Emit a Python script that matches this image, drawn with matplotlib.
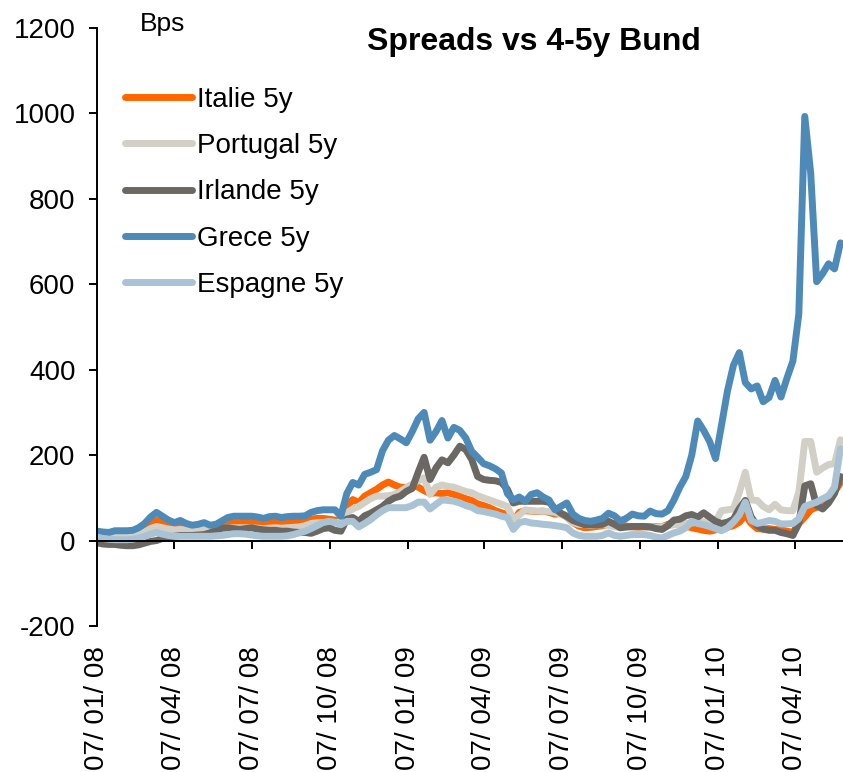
import numpy as np
import pandas as pd
import matplotlib
matplotlib.use("Agg")
import matplotlib.pyplot as plt

plt.rcParams['font.family'] = ['Liberation Sans', 'DejaVu Sans']
plt.rcParams['axes.unicode_minus'] = False

# weekly observations, first one on 07/01/2008
start = "2008-01-07"

italie = [18, 17, 15, 16, 17, 16, 17, 22, 30, 40,
          47, 45, 38, 33, 33, 30, 28, 29, 31, 30,
          31, 36, 41, 42, 42, 43, 42, 41, 40, 42,
          42, 41, 42, 43, 44, 46, 50, 52, 52, 50,
          48, 45, 80, 96, 89, 104, 112, 120, 130, 137,
          130, 125, 124, 130, 125, 117, 110, 112, 110, 112,
          108, 104, 98, 94, 86, 82, 77, 70, 65, 61,
          45, 66, 70, 69, 68, 69, 66, 62, 63, 55,
          42, 34, 30, 31, 33, 35, 38, 40, 38, 34,
          32, 31, 32, 32, 33, 32, 38, 41, 38, 34,
          30, 27, 24, 22, 25, 31, 31, 35, 43, 60,
          40, 28, 27, 28, 26, 25, 22, 19, 40, 55,
          72, 78, 85, 100, 115, 135]

portugal = [12, 11, 10, 10, 10, 11, 12, 15, 20, 28,
            33, 30, 27, 25, 26, 25, 24, 25, 26, 25,
            25, 27, 30, 30, 30, 30, 30, 29, 28, 29,
            30, 29, 30, 31, 32, 35, 40, 42, 42, 43,
            42, 44, 65, 74, 80, 89, 98, 104, 104, 105,
            108, 115, 124, 132, 140, 147, 108, 125, 130, 127,
            125, 120, 115, 112, 105, 100, 95, 90, 85, 80,
            49, 60, 72, 70, 69, 69, 68, 66, 62, 58,
            42, 38, 37, 36, 37, 37, 36, 32, 30, 31,
            32, 32, 32, 32, 32, 32, 35, 37, 38, 40,
            41, 43, 44, 45, 45, 70, 72, 74, 113, 160,
            95, 94, 80, 72, 85, 72, 70, 70, 113, 232,
            232, 160, 170, 178, 180, 236]

irlande = [-5, -8, -9, -9, -11, -12, -12, -10, -6, -2,
           0, 5, 8, 10, 12, 12, 12, 13, 14, 18,
           24, 29, 30, 28, 26, 28, 30, 27, 25, 24,
           24, 22, 22, 20, 19, 19, 17, 22, 28, 30,
           24, 22, 50, 54, 45, 58, 64, 72, 80, 92,
           100, 104, 115, 122, 160, 195, 143, 170, 189, 182,
           200, 221, 213, 190, 150, 143, 141, 140, 136, 120,
           88, 92, 92, 92, 92, 92, 90, 75, 64, 57,
           47, 42, 37, 37, 37, 38, 45, 38, 30, 32,
           33, 33, 33, 32, 28, 26, 35, 48, 50, 58,
           61, 55, 65, 55, 45, 40, 43, 50, 75, 94,
           55, 35, 27, 24, 24, 19, 16, 12, 40, 128,
           133, 82, 74, 88, 110, 150]

grece = [22, 20, 19, 23, 23, 23, 24, 30, 40, 55,
         66, 57, 48, 42, 47, 40, 36, 38, 42, 36,
         38, 46, 54, 57, 57, 57, 57, 55, 52, 56,
         57, 54, 56, 57, 57, 58, 66, 70, 72, 72,
         72, 57, 110, 136, 130, 155, 160, 166, 210, 235,
         246, 238, 229, 255, 285, 300, 235, 255, 281, 240,
         265, 258, 240, 209, 195, 180, 175, 168, 158, 110,
         95, 102, 92, 108, 112, 102, 95, 72, 80, 88,
         62, 52, 47, 45, 48, 52, 64, 58, 46, 52,
         62, 58, 57, 69, 63, 62, 70, 95, 125, 150,
         200, 280, 258, 232, 192, 270, 350, 410, 440, 370,
         355, 362, 325, 335, 375, 336, 380, 420, 530, 993,
         860, 606, 625, 648, 636, 697]

espagne = [8, 5, 3, 2, 2, 2, 3, 6, 10, 15,
           19, 15, 12, 10, 10, 10, 10, 10, 10, 10,
           11, 12, 14, 16, 16, 15, 13, 11, 10, 10,
           10, 10, 11, 14, 18, 22, 28, 35, 42, 45,
           43, 37, 45, 45, 32, 40, 49, 60, 70, 77,
           77, 77, 77, 82, 90, 90, 74, 85, 95, 94,
           92, 88, 82, 78, 70, 68, 65, 62, 57, 54,
           26, 42, 45, 41, 40, 38, 37, 35, 33, 30,
           18, 12, 10, 10, 10, 12, 18, 12, 10, 12,
           14, 14, 14, 12, 8, 6, 12, 18, 22, 30,
           45, 40, 37, 33, 28, 23, 30, 43, 60, 90,
           47, 40, 43, 47, 45, 39, 39, 40, 51, 80,
           85, 90, 98, 105, 125, 215]

names = ["Italie 5y", "Portugal 5y", "Irlande 5y", "Grece 5y", "Espagne 5y"]
colors = ["#FF6600", "#D2CFC6", "#6B6763", "#4E8AB8", "#AAC3D4"]

tick_dates = ["2008-01-07", "2008-04-07", "2008-07-07", "2008-10-07", "2009-01-07",
              "2009-04-07", "2009-07-07", "2009-10-07", "2010-01-07", "2010-04-07"]
tick_labels = ["07/ 01/ 08", "07/ 04/ 08", "07/ 07/ 08", "07/ 10/ 08", "07/ 01/ 09",
               "07/ 04/ 09", "07/ 07/ 09", "07/ 10/ 09", "07/ 01/ 10", "07/ 04/ 10"]

dates = pd.date_range(start, periods=len(grece), freq="7D")

fig = plt.figure(figsize=(8.43, 7.72), dpi=100)
ax = fig.add_axes([97 / 843, 146 / 772, 746 / 843, 598 / 772])

for vals, name, col in zip([italie, portugal, irlande, grece, espagne], names, colors):
    ax.plot(dates, vals, color=col, lw=5, label=name, solid_capstyle="round",
            solid_joinstyle="round")

ax.spines["top"].set_visible(False)
ax.spines["right"].set_visible(False)
ax.spines["bottom"].set_position(("data", 0))
ax.spines["left"].set_linewidth(1.4)
ax.spines["bottom"].set_linewidth(1.4)

ax.set_ylim(-200, 1200)
ax.set_yticks(np.arange(-200, 1201, 200))
ax.set_xlim(dates[0], dates[-1] + pd.Timedelta(days=3))
ax.set_xticks(pd.to_datetime(tick_dates))
ax.set_xticklabels(tick_labels)
ax.tick_params(axis="y", direction="out", length=5.5, width=1.4, labelsize=20, pad=10)
ax.tick_params(axis="x", direction="out", length=6, width=1.4, labelsize=20, pad=70,
               labelrotation=90)

ax.legend(loc="upper left", bbox_to_anchor=(111 / 843, 1 - 73 / 772),
          bbox_transform=fig.transFigure, frameon=False, fontsize=20,
          handlelength=2.4, handletextpad=0.2, labelspacing=0.73, borderpad=0)

fig.text(534 / 843, 1 - 42 / 772, "Spreads vs 4-5y Bund", ha="center", va="center",
         fontsize=23, fontweight="bold")
fig.text(140 / 843, 1 - 24 / 772, "Bps", ha="left", va="center", fontsize=19)

fig.savefig("out.png", dpi=100)
